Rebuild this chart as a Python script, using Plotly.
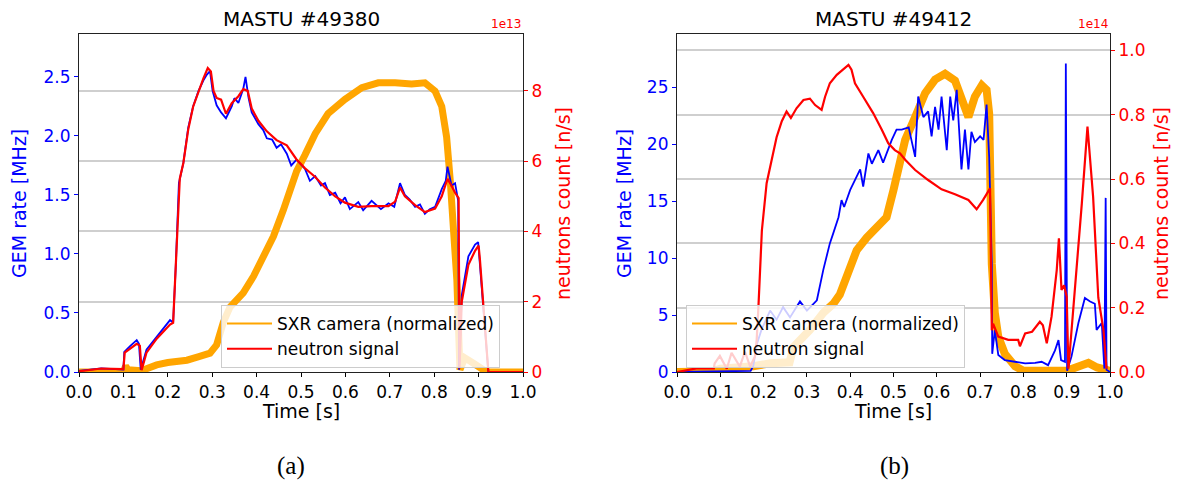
import plotly.graph_objects as go

# ---------------- Panel (a): MASTU #49380 ----------------
t_gem_a = [0.0, 0.05, 0.10, 0.102, 0.115, 0.13, 0.135, 0.139, 0.152, 0.175, 0.19, 0.205, 0.212,
           0.218, 0.225, 0.235, 0.246, 0.257, 0.269, 0.28, 0.288, 0.295, 0.301, 0.31, 0.32, 0.331,
           0.344, 0.35, 0.359, 0.37, 0.375, 0.382, 0.389, 0.404, 0.415, 0.423, 0.435, 0.445, 0.455,
           0.468, 0.478, 0.49, 0.509, 0.52, 0.532, 0.545, 0.554, 0.565, 0.577, 0.589, 0.599, 0.61,
           0.629, 0.64, 0.659, 0.68, 0.697, 0.71, 0.723, 0.734, 0.745, 0.757, 0.768, 0.779, 0.79,
           0.802, 0.817, 0.826, 0.830, 0.839, 0.847, 0.854, 0.856, 0.862, 0.877, 0.892, 0.899,
           0.905, 0.922, 1.0]
gem_a = [0.01, 0.03, 0.02, 0.17, 0.22, 0.27, 0.24, 0.02, 0.19, 0.30, 0.37, 0.44, 0.42,
         0.90, 1.60, 1.77, 2.07, 2.25, 2.38, 2.47, 2.52, 2.55, 2.38, 2.26, 2.20, 2.15,
         2.25, 2.32, 2.28, 2.40, 2.50, 2.32, 2.20, 2.10, 2.05, 1.98, 1.97, 1.90, 1.93,
         1.85, 1.75, 1.80, 1.72, 1.62, 1.66, 1.58, 1.60, 1.50, 1.52, 1.43, 1.48, 1.38,
         1.44, 1.37, 1.45, 1.38, 1.43, 1.40, 1.60, 1.50, 1.46, 1.40, 1.42, 1.34, 1.38,
         1.40, 1.55, 1.62, 1.74, 1.58, 1.60, 1.45, 0.02, 0.65, 0.98, 1.08, 1.10,
         0.80, 0.0, 0.0]

t_neu_a = [0.0, 0.05, 0.10, 0.103, 0.13, 0.137, 0.141, 0.152, 0.175, 0.205, 0.212, 0.218, 0.227,
           0.235, 0.246, 0.257, 0.269, 0.28, 0.29, 0.297, 0.303, 0.31, 0.32, 0.331, 0.344, 0.359,
           0.37, 0.38, 0.389, 0.404, 0.423, 0.445, 0.468, 0.49, 0.509, 0.532, 0.554, 0.577, 0.599,
           0.629, 0.659, 0.697, 0.712, 0.723, 0.734, 0.757, 0.779, 0.802, 0.817, 0.830, 0.839,
           0.847, 0.855, 0.857, 0.862, 0.877, 0.892, 0.900, 0.903, 0.922, 1.0]
neu_a_1e13 = [0.02, 0.10, 0.08, 0.55, 0.80, 0.75, 0.05, 0.55, 0.95, 1.35, 1.40, 3.0, 5.5,
              5.95, 6.9, 7.55, 8.0, 8.35, 8.65, 8.55, 8.0, 7.8, 7.75, 7.35, 7.65, 7.85,
              8.05, 8.0, 7.5, 7.15, 6.85, 6.6, 6.45, 6.05, 5.8, 5.55, 5.25, 5.0, 4.82,
              4.7, 4.72, 4.72, 4.85, 5.25, 5.0, 4.75, 4.55, 4.65, 5.0, 5.5, 5.3,
              5.1, 4.95, 0.1, 2.0, 3.05, 3.45, 3.6, 3.2, 0.0, 0.0]

t_sxr_a = [0.0, 0.10, 0.105, 0.11, 0.14, 0.16, 0.175, 0.20, 0.243, 0.27, 0.295, 0.31, 0.325,
           0.34, 0.355, 0.37, 0.393, 0.415, 0.438, 0.46, 0.475, 0.49, 0.509, 0.532, 0.561,
           0.599, 0.637, 0.674, 0.712, 0.749, 0.779, 0.802, 0.817, 0.828, 0.836, 0.843, 0.851,
           0.858, 0.869, 0.89, 0.918, 1.0]
sxr_a = [0.0, 0.0, 0.05, 0.02, 0.01, 0.04, 0.06, 0.08, 0.10, 0.13, 0.16, 0.23, 0.42,
         0.55, 0.61, 0.67, 0.81, 0.98, 1.15, 1.37, 1.55, 1.70, 1.84, 2.02, 2.19,
         2.31, 2.41, 2.45, 2.45, 2.44, 2.45, 2.38, 2.25, 1.99, 1.63, 1.26, 0.78,
         0.02, 0.12, 0.07, 0.0, 0.0]

# ---------------- Panel (b): MASTU #49412 ----------------
t_gem_b = [0.0, 0.10, 0.17, 0.176, 0.185, 0.195, 0.215, 0.23, 0.245, 0.261, 0.284, 0.30, 0.323,
           0.338, 0.353, 0.361, 0.373, 0.38, 0.386, 0.40, 0.411, 0.423, 0.43, 0.442, 0.45, 0.465,
           0.476, 0.488, 0.496, 0.507, 0.519, 0.535, 0.55, 0.557, 0.569, 0.58, 0.588, 0.596,
           0.604, 0.611, 0.623, 0.631, 0.638, 0.646, 0.657, 0.665, 0.673, 0.68, 0.688, 0.70,
           0.708, 0.715, 0.721, 0.727, 0.728, 0.734, 0.742, 0.757, 0.781, 0.804, 0.827, 0.842,
           0.857, 0.873, 0.881, 0.887, 0.896, 0.898, 0.901, 0.911, 0.927, 0.942, 0.954, 0.965,
           0.969, 0.981, 0.987, 0.99, 0.992, 1.0]
gem_b = [0.0, 0.05, 0.1, 0.5, 2.5, 3.7, 5.4, 4.6, 5.7, 4.8, 6.2, 5.4, 6.3,
         9.0, 11.3, 12.2, 13.6, 15.1, 14.5, 16.0, 16.9, 17.8, 16.3, 19.2, 18.3, 19.5,
         18.4, 19.7, 20.4, 21.3, 21.3, 21.5, 18.9, 24.2, 22.4, 22.9, 20.7, 23.3,
         21.3, 24.2, 19.5, 24.2, 22.1, 24.8, 17.8, 21.3, 17.8, 21.1, 20.2, 20.7,
         20.4, 23.5, 18.9, 9.5, 1.6, 3.7, 1.5, 1.05, 0.9, 0.75, 0.8, 0.9,
         0.6, 1.9, 2.8, 1.05, 0.9, 27.1, 0.1, 1.35, 4.3, 6.5, 6.2, 6.0,
         3.7, 4.3, 0.3, 15.3, 0.2, 0.0]

t_neu_b = [0.0, 0.045, 0.085, 0.087, 0.099, 0.115, 0.126, 0.145, 0.157, 0.169, 0.18, 0.184, 0.188,
           0.196, 0.207, 0.219, 0.23, 0.242, 0.253, 0.263, 0.276, 0.292, 0.307, 0.319, 0.334,
           0.342, 0.353, 0.369, 0.384, 0.396, 0.403, 0.411, 0.43, 0.453, 0.473, 0.488, 0.503,
           0.515, 0.527, 0.55, 0.58, 0.611, 0.642, 0.673, 0.692, 0.707, 0.723, 0.727, 0.73,
           0.742, 0.765, 0.788, 0.792, 0.804, 0.82, 0.838, 0.845, 0.854, 0.865, 0.877, 0.882,
           0.888, 0.894, 0.90, 0.904, 0.923, 0.935, 0.948, 0.961, 0.973, 0.985, 0.992]
neu_b_1e14 = [0.0, 0.011, 0.011, 0.027, 0.05, 0.01, 0.06, 0.017, 0.063, 0.017, 0.048, 0.10, 0.20,
              0.44, 0.587, 0.667, 0.73, 0.78, 0.81, 0.79, 0.82, 0.846, 0.85, 0.83, 0.815,
              0.856, 0.898, 0.924, 0.94, 0.955, 0.94, 0.898, 0.856, 0.805, 0.753, 0.711, 0.69,
              0.68, 0.66, 0.628, 0.597, 0.568, 0.553, 0.535, 0.506, 0.535, 0.571, 0.13, 0.15,
              0.11, 0.10, 0.10, 0.08, 0.12, 0.125, 0.156, 0.145, 0.089, 0.172, 0.317, 0.416,
              0.255, 0.27, 0.234, 0.01, 0.317, 0.525, 0.763, 0.545, 0.231, 0.13, 0.01]

t_sxr_b = [0.0, 0.08, 0.10, 0.15, 0.176, 0.215, 0.26, 0.269, 0.307, 0.338, 0.361, 0.376, 0.392,
           0.415, 0.438, 0.461, 0.484, 0.50, 0.515, 0.527, 0.55, 0.573, 0.596, 0.619, 0.642,
           0.657, 0.673, 0.688, 0.704, 0.715, 0.721, 0.727, 0.731, 0.734, 0.742, 0.757, 0.781,
           0.80, 0.90, 0.92, 0.935, 0.95, 0.97, 0.99, 1.0]
sxr_b = [0.0, 0.05, 0.3, 0.35, 0.5, 0.77, 0.85, 2.2, 3.7, 5.2, 6.0, 6.8, 8.6,
         10.7, 11.8, 12.8, 13.6, 16.0, 18.3, 20.4, 22.4, 24.5, 25.7, 26.2, 25.6,
         24.2, 22.4, 24.2, 25.2, 24.8, 22.7, 9.5, 6.5, 5.2, 3.1, 1.6, 0.5,
         0.1, 0.1, 0.3, 0.6, 0.8, 0.4, 0.2, 0.1]

x_ticks = [0.0, 0.1, 0.2, 0.3, 0.4, 0.5, 0.6, 0.7, 0.8, 0.9, 1.0]
gem_ticks_a = [0.0, 0.5, 1.0, 1.5, 2.0, 2.5]
neu_ticks_a = [0, 2, 4, 6, 8]
gem_ticks_b = [0, 5, 10, 15, 20, 25]
neu_ticks_b = [0.0, 0.2, 0.4, 0.6, 0.8, 1.0]

BLUE = "#0000ff"
RED = "#ff0000"
ORANGE = "#ffa500"
FONT = "DejaVu Sans"
W, H = 1177, 486

def px(x):
    return x / W

def py(y):
    return 1 - y / H

fig = go.Figure()

def add_panel(t_sxr, sxr, t_gem, gem, t_neu, neu, xa, ya, ya2, leg, sxr_w):
    # thick noisy-looking SXR band (legend shown through a thin proxy line)
    fig.add_trace(go.Scatter(x=t_sxr, y=sxr, mode="lines", showlegend=False,
                             line=dict(color=ORANGE, width=sxr_w), xaxis=xa, yaxis=ya,
                             hoverinfo="skip"))
    fig.add_trace(go.Scatter(x=t_gem, y=gem, mode="lines", showlegend=False,
                             line=dict(color=BLUE, width=1.8), xaxis=xa, yaxis=ya))
    fig.add_trace(go.Scatter(x=t_neu, y=neu, mode="lines", showlegend=False,
                             line=dict(color=RED, width=2.2), xaxis=xa, yaxis=ya2))
    # legend proxies
    fig.add_trace(go.Scatter(x=[None], y=[None], mode="lines", name="SXR camera (normalized)",
                             line=dict(color=ORANGE, width=2), xaxis=xa, yaxis=ya, legend=leg))
    fig.add_trace(go.Scatter(x=[None], y=[None], mode="lines", name="neutron signal",
                             line=dict(color=RED, width=2), xaxis=xa, yaxis=ya2, legend=leg))

add_panel(t_sxr_a, sxr_a, t_gem_a, gem_a, t_neu_a, neu_a_1e13, "x", "y", "y2", "legend", 7)
add_panel(t_sxr_b, sxr_b, t_gem_b, gem_b, t_neu_b, neu_b_1e14, "x2", "y3", "y4", "legend2", 8)

y_dom = [py(372), py(34)]
dom_a = [px(79), px(523)]
dom_b = [px(677), px(1110)]

xcommon = dict(range=[0, 1], tickvals=x_ticks, tickformat=".1f", ticks="outside", ticklen=4,
               tickcolor="black", tickfont=dict(size=17, color="black", family=FONT),
               showline=True, linecolor="#222222", linewidth=1.2, mirror=True,
               showgrid=False, zeroline=False, automargin=False)
fig.update_layout(
    xaxis=dict(domain=dom_a, anchor="y", **xcommon),
    xaxis2=dict(domain=dom_b, anchor="y3", **xcommon),
    yaxis=dict(domain=y_dom, anchor="x", range=[0, 2.864], tickvals=gem_ticks_a, tickformat=".1f",
               ticks="outside", ticklen=4, tickcolor=BLUE,
               tickfont=dict(size=17, color=BLUE, family=FONT),
               showline=True, linecolor="#222222", linewidth=1.2, showgrid=False,
               zeroline=False, automargin=False),
    yaxis2=dict(overlaying="y", anchor="x", side="right", range=[0, 9.62], tickvals=neu_ticks_a,
                ticks="outside", ticklen=4, tickcolor=RED,
                tickfont=dict(size=17, color=RED, family=FONT),
                showline=True, linecolor="#222222", linewidth=1.2, showgrid=True,
                gridcolor="#cfcfcf", gridwidth=1.5, zeroline=False, automargin=False),
    yaxis3=dict(domain=y_dom, anchor="x2", range=[0, 29.7], tickvals=gem_ticks_b,
                ticks="outside", ticklen=4, tickcolor=BLUE,
                tickfont=dict(size=17, color=BLUE, family=FONT),
                showline=True, linecolor="#222222", linewidth=1.2, showgrid=False,
                zeroline=False, automargin=False),
    yaxis4=dict(overlaying="y3", anchor="x2", side="right", range=[0, 1.051], tickvals=neu_ticks_b,
                tickformat=".1f", ticks="outside", ticklen=4, tickcolor=RED,
                tickfont=dict(size=17, color=RED, family=FONT),
                showline=True, linecolor="#222222", linewidth=1.2, showgrid=True,
                gridcolor="#cfcfcf", gridwidth=1.5, zeroline=False, automargin=False),
)

legend_common = dict(bgcolor="rgba(255,255,255,0.8)", bordercolor="#cccccc", borderwidth=1,
                     font=dict(size=17, color="black", family=FONT), xanchor="left",
                     yanchor="top", itemwidth=45, tracegroupgap=0)
fig.update_layout(
    legend=dict(x=px(221), y=py(305), **legend_common),
    legend2=dict(x=px(686), y=py(305), **legend_common),
)

ann = []
def add_text(text, x, y, size, color="black", angle=0, xanchor="center", yanchor="middle",
             family=FONT):
    ann.append(dict(text=text, x=px(x), y=py(y), xref="paper", yref="paper", showarrow=False,
                    font=dict(size=size, color=color, family=family), textangle=angle,
                    xanchor=xanchor, yanchor=yanchor))

add_text("MASTU #49380", 301, 19, 20)
add_text("MASTU #49412", 893, 19, 20)
add_text("1e13", 523, 33, 12, color=RED, xanchor="right", yanchor="bottom")
add_text("1e14", 1110, 33, 12, color=RED, xanchor="right", yanchor="bottom")
add_text("GEM rate [MHz]", 19, 204, 19, color=BLUE, angle=-90)
add_text("neutrons count [n/s]", 563, 204, 19, color=RED, angle=-90)
add_text("GEM rate [MHz]", 624, 204, 19, color=BLUE, angle=-90)
add_text("neutrons count [n/s]", 1161, 204, 19, color=RED, angle=-90)
add_text("Time [s]", 301, 411, 19)
add_text("Time [s]", 893, 411, 19)
add_text("(a)", 291, 466, 25, family="Liberation Serif")
add_text("(b)", 894, 466, 25, family="Liberation Serif")

fig.update_layout(annotations=ann, width=W, height=H, margin=dict(l=0, r=0, t=0, b=0),
                  paper_bgcolor="white", plot_bgcolor="white",
                  font=dict(family=FONT, color="black"))

fig.write_html("out.html")
